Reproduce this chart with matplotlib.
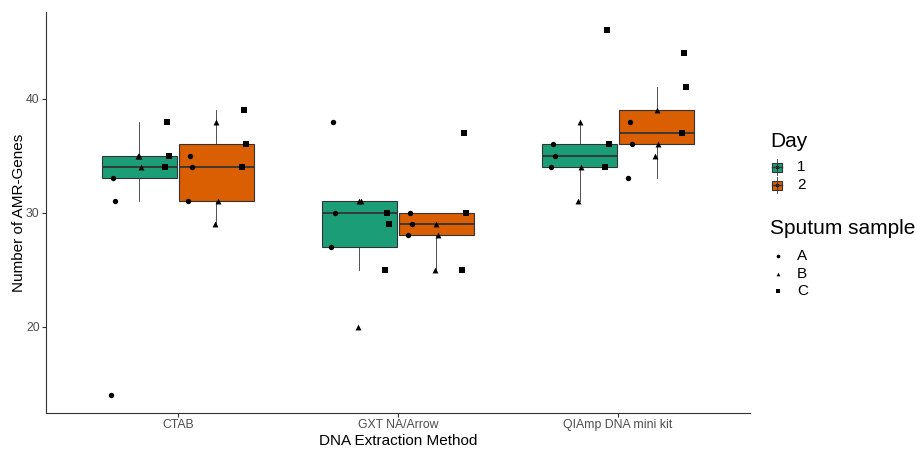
import numpy as np
import matplotlib.pyplot as plt
from matplotlib.patches import Rectangle
from matplotlib.lines import Line2D

plt.rcParams['font.family'] = ['Liberation Sans', 'DejaVu Sans']

# Metodos de extraccion y dias
metodos = ["CTAB", "GXT NA/Arrow", "QIAmp DNA mini kit"]
dias = ["1", "2"]
muestras = ["A", "B", "C"]

# Genes AMR por metodo y dia: 3 replicas por muestra, en orden A, B, C
ctab_d1 = [33, 31, 14, 35, 34, 35, 38, 35, 34]
ctab_d2 = [35, 34, 31, 38, 31, 29, 39, 36, 34]
gxt_d1 = [38, 30, 27, 31, 31, 20, 30, 29, 25]
gxt_d2 = [30, 29, 28, 29, 28, 25, 37, 30, 25]
qia_d1 = [36, 35, 34, 38, 34, 31, 46, 36, 34]
qia_d2 = [38, 36, 33, 39, 36, 35, 44, 41, 37]
muestra_punto = ["A", "A", "A", "B", "B", "B", "C", "C", "C"]

datos = [[ctab_d1, ctab_d2], [gxt_d1, gxt_d2], [qia_d1, qia_d2]]

colores = {"1": "#1B9E77", "2": "#D95F02"}
marcas = {"A": "o", "B": "^", "C": "s"}
gris = "#333333"

fig = plt.figure(figsize=(9.17, 4.5), dpi=100)
ax = fig.add_axes([0.050, 0.082, 0.768, 0.891])

dodge = 0.175
ancho = 0.34
desp_muestra = {"A": -0.12, "B": 0.0, "C": 0.125}
jit = [0.0, 0.008, -0.008]

for i, metodo in enumerate(metodos):
    for j, dia in enumerate(dias):
        x0 = i + 1 + (-dodge if j == 0 else dodge)
        vals = datos[i][j]
        ax.boxplot([vals], positions=[x0], widths=ancho, whis=1.5,
                   showfliers=False, patch_artist=True, manage_ticks=False,
                   boxprops=dict(facecolor=colores[dia], edgecolor=gris, linewidth=0.8),
                   medianprops=dict(color=gris, linewidth=1.3),
                   whiskerprops=dict(color=gris, linewidth=0.6),
                   capprops=dict(linewidth=0), zorder=2)
        for k, (v, m) in enumerate(zip(vals, muestra_punto)):
            ax.scatter(x0 + desp_muestra[m] + jit[k % 3], v, marker=marcas[m],
                       s=15 if m != "B" else 18, color="black", linewidths=0, zorder=3)

ax.set_xlim(0.4, 3.6)
ax.set_ylim(12.4, 47.6)
ax.set_xticks([1, 2, 3])
ax.set_xticklabels(metodos)
ax.set_yticks([20, 30, 40])
for s in ["top", "right"]:
    ax.spines[s].set_visible(False)
for s in ["left", "bottom"]:
    ax.spines[s].set_color(gris)
    ax.spines[s].set_linewidth(0.8)
ax.tick_params(axis="both", length=3, width=0.8, color=gris, labelcolor="#4D4D4D",
               labelsize=8.8, pad=1.5)
ax.set_xlabel("DNA Extraction Method", fontsize=11, labelpad=2)
ax.set_ylabel("Number of AMR-Genes", fontsize=11, labelpad=0)

# Leyendas dibujadas en coordenadas de pixel
lax = fig.add_axes([0, 0, 1, 1])
lax.set_xlim(0, 917)
lax.set_ylim(450, 0)
lax.axis("off")

lax.text(770, 147, "Day", fontsize=15, va="baseline")
for n, dia in enumerate(dias):
    yc = 167 + n * 18
    lax.add_line(Line2D([777, 777], [yc - 8, yc + 8], color=gris, lw=0.6))
    lax.add_patch(Rectangle((772, yc - 4.5), 10, 9, facecolor=colores[dia], edgecolor=gris, lw=0.8))
    lax.add_line(Line2D([772, 782], [yc, yc], color=gris, lw=1.0))
    lax.scatter(777, yc, s=7, color="black", linewidths=0)
    lax.text(797, yc, dia, fontsize=11, va="center")

lax.text(770, 234, "Sputum sample", fontsize=15, va="baseline")
for n, m in enumerate(muestras):
    yc = 256 + n * 17.5
    lax.scatter(778, yc, marker=marcas[m], s=7, color="black", linewidths=0)
    lax.text(797, yc, m, fontsize=11, va="center")

fig.savefig("out.png", dpi=100)
